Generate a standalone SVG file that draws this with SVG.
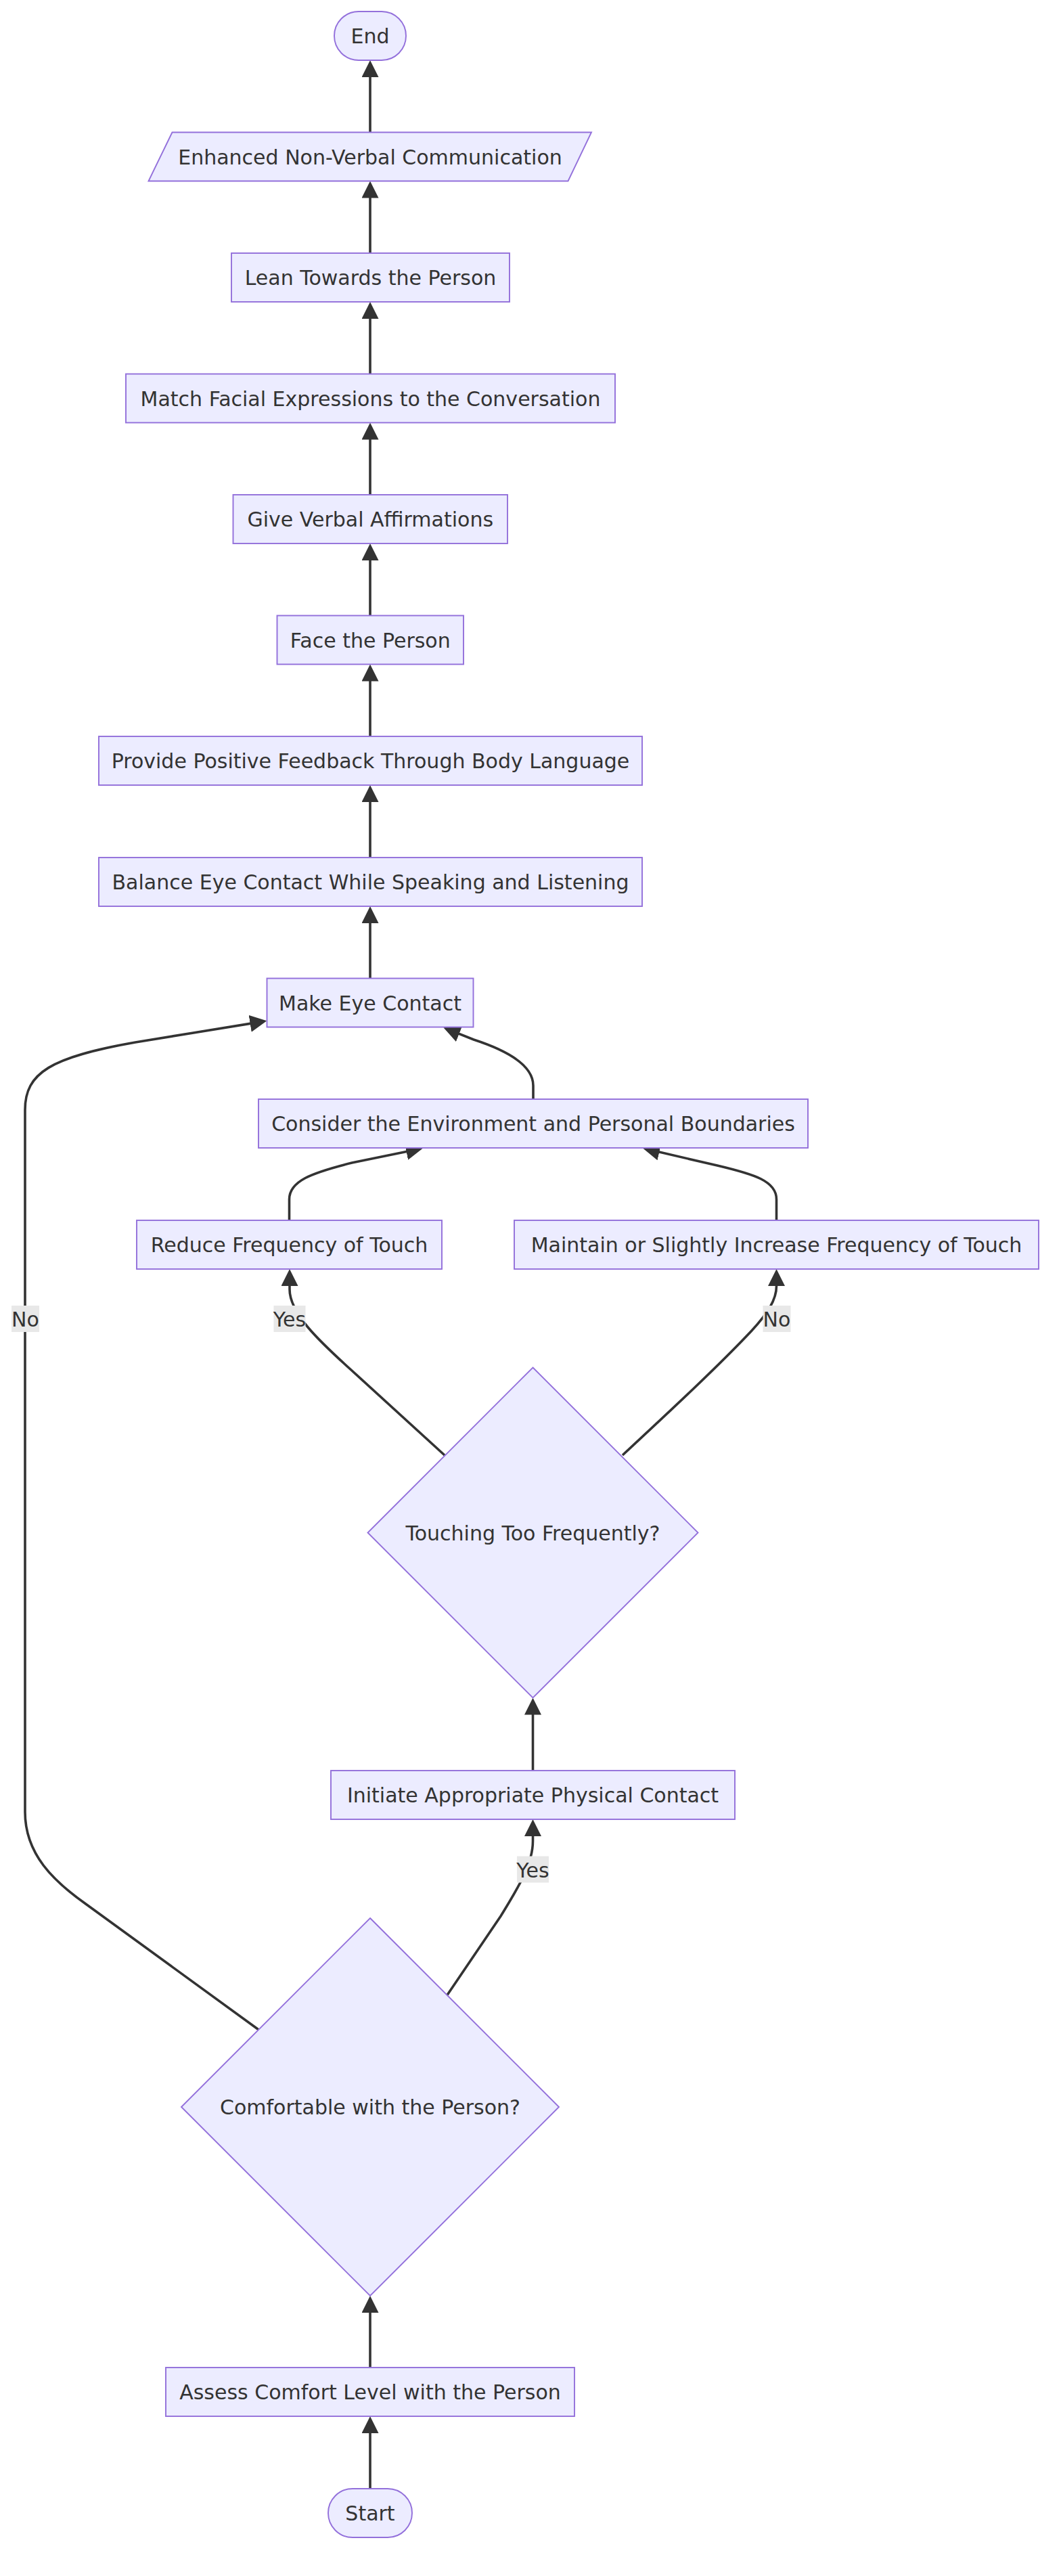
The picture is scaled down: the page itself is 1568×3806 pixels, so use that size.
<svg xmlns="http://www.w3.org/2000/svg" width="1568" height="3806" viewBox="0 0 1568 3806">
  <style>
    .node rect, .node polygon { fill: #ECECFF; stroke: #9370DB; stroke-width: 1.9; }
    .label { font-family: "DejaVu Sans", Verdana, sans-serif; font-size: 30px; fill: #333333; text-anchor: middle; }
    .edge { fill: none; stroke: #333333; stroke-width: 3.6; marker-end: url(#arrow); }
    .edge-label rect { fill: #e8e8e8; stroke: none; }
  </style>
  <defs>
    <marker id="arrow" viewBox="0 0 10 10" refX="8" refY="5" markerUnits="userSpaceOnUse" markerWidth="25" markerHeight="25" orient="auto">
      <path d="M0,0 L10,5 L0,10 z" fill="#333333"/>
    </marker>
  </defs>
  <rect width="1568" height="3806" fill="#ffffff"/>

  <!-- connectors -->
  <g id="edges">
    <path class="edge" d="M547,195.5 L547,94"/>
    <path class="edge" d="M547,374 L547,272.5"/>
    <path class="edge" d="M547,552.5 L547,451"/>
    <path class="edge" d="M547,731 L547,629.5"/>
    <path class="edge" d="M547,909.5 L547,808"/>
    <path class="edge" d="M547,1088 L547,986.5"/>
    <path class="edge" d="M547,1267 L547,1165"/>
    <path class="edge" d="M547,1445.5 L547,1344"/>
    <path class="edge" d="M788,1624 L788,1604 C788,1570 740,1549 700,1536 L660,1520"/>
    <path class="edge" d="M427.5,1803 L427.5,1772 C427.5,1745 460,1733 520,1718 L620.1,1697.5"/>
    <path class="edge" d="M1147.5,1803 L1147.5,1772 C1147.5,1745 1115,1735 1060,1722 L954.9,1697.6"/>
    <path class="edge" d="M657,2150 L520,2025 C470,1980 428,1940 428,1905 L428,1880"/>
    <path class="edge" d="M920,2150 C990,2085 1060,2020 1110,1967 C1135,1940 1147.5,1920 1147.5,1900 L1147.5,1880"/>
    <path class="edge" d="M787.5,2616 L787.5,2513.5"/>
    <path class="edge" d="M661,2947.6 L740,2831 C765,2790 787.5,2755 787.5,2720 L787.5,2693"/>
    <path class="edge" d="M381.7,2998.5 L126.7,2813 C80,2780 37,2740 37,2677 L37,1640 C37,1585 75,1562 200,1540 L389.4,1509.1"/>
    <path class="edge" d="M547,3498 L547,3397"/>
    <path class="edge" d="M547,3677 L547,3575"/>

    <g class="edge-label">
      <rect x="764" y="2742.5" width="47" height="39"/>
      <text class="label" x="787.5" y="2773.5">Yes</text>
    </g>
    <g class="edge-label">
      <rect x="17" y="1929" width="41" height="39"/>
      <text class="label" x="37.5" y="1959.5">No</text>
    </g>
    <g class="edge-label">
      <rect x="404.5" y="1929" width="47" height="39"/>
      <text class="label" x="428" y="1959.5">Yes</text>
    </g>
    <g class="edge-label">
      <rect x="1127.5" y="1929" width="41" height="39"/>
      <text class="label" x="1148" y="1959.5">No</text>
    </g>
  </g>

  <!-- nodes -->
  <g id="end" class="node">
    <rect x="494" y="17" width="106" height="72" rx="36" ry="36"/>
    <text class="label" x="547" y="64">End</text>
  </g>
  <g id="enhanced" class="node">
    <polygon points="254.5,195.5 874,195.5 839.5,267.5 219.5,267.5"/>
    <text class="label" x="547" y="242.5">Enhanced Non-Verbal Communication</text>
  </g>
  <g id="lean" class="node">
    <rect x="342" y="374" width="411" height="72"/>
    <text class="label" x="547.5" y="421">Lean Towards the Person</text>
  </g>
  <g id="match" class="node">
    <rect x="186" y="552.5" width="723" height="72"/>
    <text class="label" x="547.5" y="599.5">Match Facial Expressions to the Conversation</text>
  </g>
  <g id="verbal" class="node">
    <rect x="344.5" y="731" width="405.5" height="72"/>
    <text class="label" x="547.25" y="778">Give Verbal Affirmations</text>
  </g>
  <g id="face" class="node">
    <rect x="409.5" y="909.5" width="275.5" height="72"/>
    <text class="label" x="547.25" y="956.5">Face the Person</text>
  </g>
  <g id="feedback" class="node">
    <rect x="146" y="1088" width="803" height="72"/>
    <text class="label" x="547.5" y="1135">Provide Positive Feedback Through Body Language</text>
  </g>
  <g id="balance" class="node">
    <rect x="146" y="1267" width="803" height="72"/>
    <text class="label" x="547.5" y="1314">Balance Eye Contact While Speaking and Listening</text>
  </g>
  <g id="eye" class="node">
    <rect x="394.5" y="1445.5" width="305" height="72"/>
    <text class="label" x="547" y="1492.5">Make Eye Contact</text>
  </g>
  <g id="environment" class="node">
    <rect x="382" y="1624" width="812" height="72"/>
    <text class="label" x="788" y="1671">Consider the Environment and Personal Boundaries</text>
  </g>
  <g id="reduce" class="node">
    <rect x="202" y="1803" width="451" height="72"/>
    <text class="label" x="427.5" y="1850">Reduce Frequency of Touch</text>
  </g>
  <g id="maintain" class="node">
    <rect x="760" y="1803" width="775" height="72"/>
    <text class="label" x="1147.5" y="1850">Maintain or Slightly Increase Frequency of Touch</text>
  </g>
  <g id="touching" class="node">
    <polygon points="787.5,2020.5 1031.5,2264.5 787.5,2508.5 543.5,2264.5"/>
    <text class="label" x="787.5" y="2275.5">Touching Too Frequently?</text>
  </g>
  <g id="initiate" class="node">
    <rect x="489" y="2616" width="597" height="72"/>
    <text class="label" x="787.5" y="2663">Initiate Appropriate Physical Contact</text>
  </g>
  <g id="comfortable" class="node">
    <polygon points="547,2834 826,3113 547,3392 268,3113"/>
    <text class="label" x="547" y="3124">Comfortable with the Person?</text>
  </g>
  <g id="assess" class="node">
    <rect x="245" y="3498" width="604" height="72"/>
    <text class="label" x="547" y="3545">Assess Comfort Level with the Person</text>
  </g>
  <g id="start" class="node">
    <rect x="485" y="3677" width="124" height="72" rx="36" ry="36"/>
    <text class="label" x="547" y="3724">Start</text>
  </g>
</svg>
